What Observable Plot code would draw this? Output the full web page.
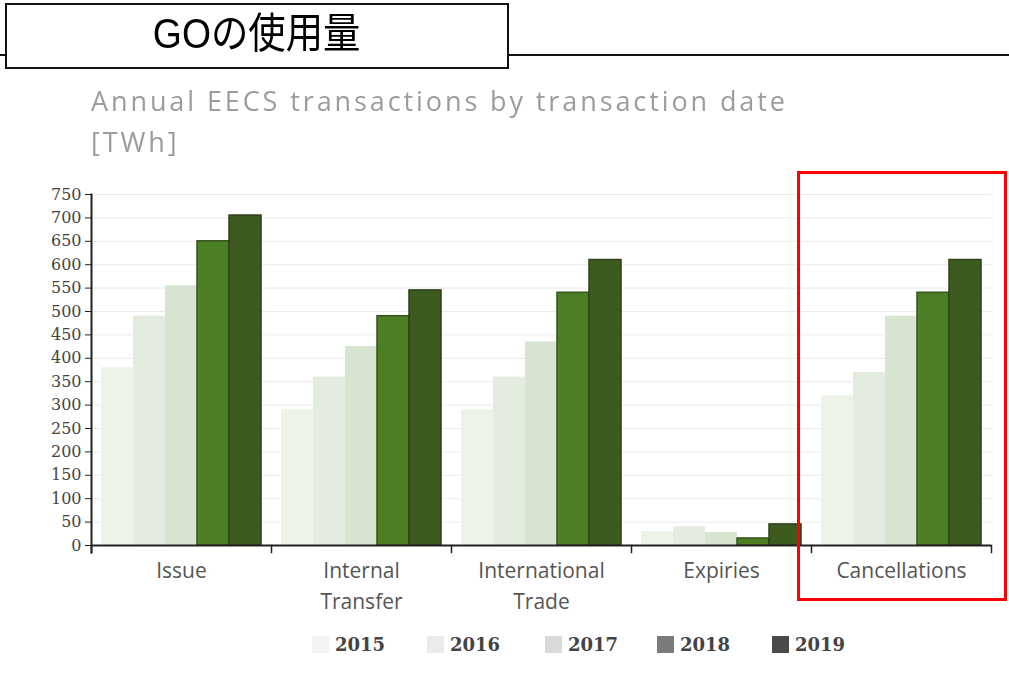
<!DOCTYPE html>
<html><head><meta charset="utf-8">
<script src="https://cdn.jsdelivr.net/npm/d3@7"></script>
<script src="https://cdn.jsdelivr.net/npm/@observablehq/plot@0.6"></script>
<style>
body{margin:0;background:#fff;width:1009px;height:684px;position:relative;overflow:hidden;font-family:"Open Sans",sans-serif}
#hline{position:absolute;left:0;top:54px;width:1009px;height:0;border-top:2px solid #111}
#titlebox{position:absolute;left:5px;top:3px;width:500px;height:62px;border:2px solid #111;background:#fff;
  font-family:"Liberation Sans","Noto Sans CJK JP",sans-serif;font-size:42px;line-height:58px;text-align:center;color:#000}
#titlebox span{display:inline-block;transform:scaleX(0.89)}
#subtitle{position:absolute;left:91px;top:80px;font-family:"Open Sans",sans-serif;font-size:27px;line-height:41px;letter-spacing:2.9px;color:#9c9c9c;filter:blur(0.6px)}
#chart{position:absolute;left:0;top:170px}
#legend{position:absolute;left:0;top:634px;width:1009px;font-family:"DejaVu Serif",serif;font-weight:bold;font-size:18px;color:#444}
.item{position:absolute;display:flex;align-items:center;gap:6px}
.sw{width:17px;height:17px;display:inline-block}
#highlight{position:absolute;left:797px;top:171px;width:204px;height:424px;border:3px solid #f00}
</style></head><body>
<div id="hline"></div>
<div id="titlebox"><span>GOの使用量</span></div>
<div id="subtitle">Annual EECS transactions by transaction date<br>[TWh]</div>
<div id="chart"></div>
<div id="legend"></div>
<div id="highlight"></div>
<script>
const categories = ["Issue", "Internal Transfer", "International Trade", "Expiries", "Cancellations"];
const categoryLabels = ["Issue", "Internal\nTransfer", "International\nTrade", "Expiries", "Cancellations"];
const years = ["2015", "2016", "2017", "2018", "2019"];
const v2015 = [380, 290, 290, 30, 320];
const v2016 = [490, 360, 360, 40, 370];
const v2017 = [555, 425, 435, 28, 490];
const v2018 = [650, 490, 540, 15, 540];
const v2019 = [705, 545, 610, 45, 610];
const yTicks = [0, 50, 100, 150, 200, 250, 300, 350, 400, 450, 500, 550, 600, 650, 700, 750];
const barColors = ["#eef3ea", "#e4ebdf", "#d6e4d0", "#4c7f24", "#3d5a1f"];
const barStrokes = ["none", "none", "none", "#36531b", "#2c3f17"];
const legendColors = ["#f3f3f3", "#ebebeb", "#dadada", "#7b7b7b", "#4a4a4a"];

const series = [v2015, v2016, v2017, v2018, v2019];
const rows = [];
categories.forEach((c, i) => years.forEach((y, j) => rows.push({category: c, year: y, value: series[j][i]})));
const labelOf = Object.fromEntries(categories.map((c, i) => [c, categoryLabels[i]]));

const chart = Plot.plot({
  width: 1009, height: 450,
  marginLeft: 90, marginRight: 17, marginTop: 24, marginBottom: 75,
  style: {fontFamily: "'Open Sans', sans-serif", background: "transparent"},
  fx: {domain: categories, padding: 0, label: null},
  x: {domain: years, paddingInner: 0, paddingOuter: 0.25, axis: null},
  y: {domain: [0, 750], label: null},
  color: {domain: years, range: barColors},
  marks: [
    Plot.gridY(yTicks, {stroke: "#bbb", strokeOpacity: 0.3}),
    Plot.barY(rows, {fx: "category", x: "year", y: "value", fill: "year",
      stroke: d => barStrokes[years.indexOf(d.year)], strokeWidth: 1.5}),
    Plot.ruleY([0], {stroke: "#222", strokeWidth: 2}),
    Plot.frame({anchor: "left", fx: ["Issue"], stroke: "#222", strokeWidth: 2, insetBottom: -7}),
    Plot.frame({anchor: "left", stroke: "#222", strokeWidth: 1.5, insetTop: 351, insetBottom: -7}),
    Plot.frame({anchor: "right", fx: ["Cancellations"], stroke: "#222", strokeWidth: 1.5, insetTop: 351, insetBottom: -7}),
    Plot.axisY({ticks: yTicks, tickSize: 6, tickPadding: 4, stroke: "#222", fill: "#444",
      fontSize: 16, fontFamily: "DejaVu Serif", label: null}),
    Plot.axisFx({anchor: "bottom", tickSize: 0, tickPadding: 11, fontSize: 21, lineHeight: 1.45,
      fill: "#555", tickFormat: d => labelOf[d], label: null})
  ]
});
document.getElementById("chart").appendChild(chart);

const legend = document.getElementById("legend");
const textLefts = [335, 450, 568, 680, 795];
years.forEach((y, i) => {
  const it = document.createElement("div");
  it.className = "item";
  it.style.left = (textLefts[i] - 23) + "px";
  it.innerHTML = `<span class="sw" style="background:${legendColors[i]}"></span><span>${y}</span>`;
  legend.appendChild(it);
});
</script>
</body></html>
